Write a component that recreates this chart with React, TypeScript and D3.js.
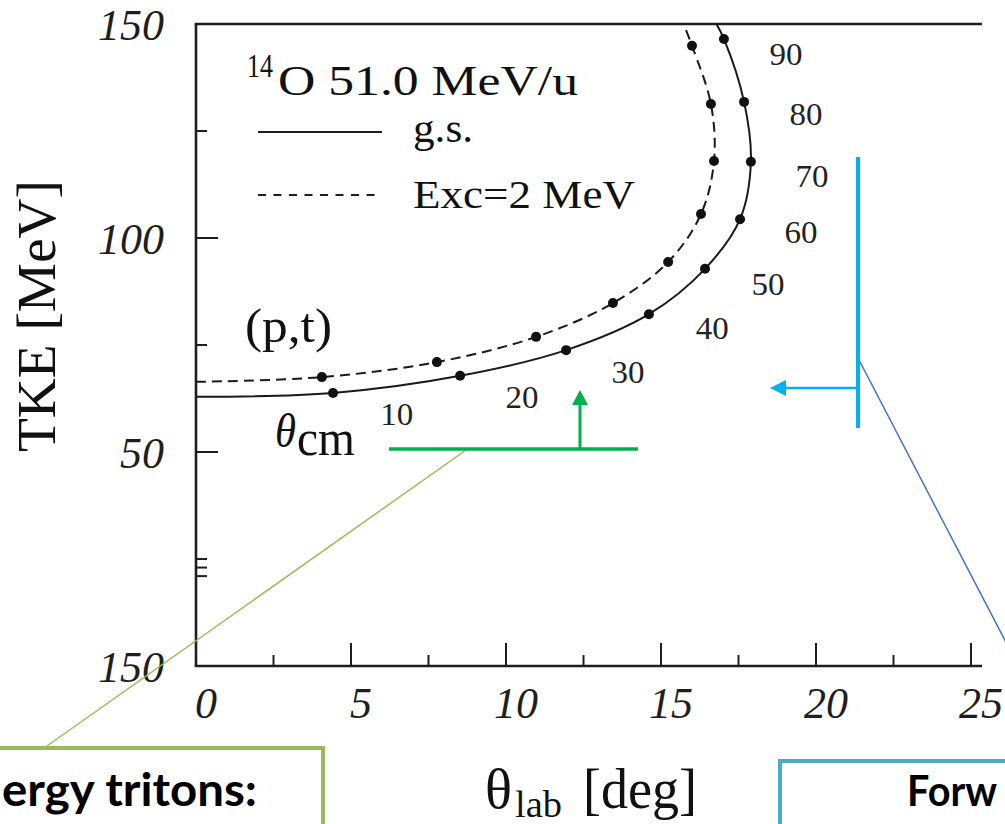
import React from "react";
import * as d3 from "d3";

// ---- data ----
const thetaCmLabels = [10, 20, 30, 40, 50, 60, 70, 80, 90];
// ground state (solid)
const gsThetaLab = [4.42, 8.52, 11.94, 14.61, 16.42, 17.55, 17.9, 17.68, 17.03];
const gsTKE = [63.8, 67.8, 73.8, 82.2, 92.8, 104.4, 117.8, 131.8, 146.5];
const gsStart: [number, number] = [0, 62.9];
const gsEnd: [number, number] = [16.75, 150.5];
// Exc = 2 MeV (dashed)
const excThetaLab = [4.06, 7.77, 10.97, 13.45, 15.23, 16.29, 16.71, 16.61, 16.0];
const excTKE = [67.5, 71.0, 76.9, 84.8, 94.4, 105.6, 118.0, 131.3, 144.9];
const excStart: [number, number] = [0, 66.4];
const excEnd: [number, number] = [15.7, 150.5];
// theta_cm label anchor positions (data units)
const labelTheta = [6.48, 10.52, 13.94, 16.65, 18.45, 19.52, 19.87, 19.68, 19.03];
const labelTKE = [56.3, 60.3, 66.1, 76.4, 86.7, 98.8, 111.9, 126.4, 140.4];

// axis ticks
const xMajorTicks = [0, 5, 10, 15, 20, 25];
const xTickLabels = ["0", "5", "10", "15", "20", "25"];
const xMinorTicks = [2.5, 7.5, 12.5, 17.5, 22.5];
const yMajorTicks = [50, 100];
const yTickLabelValues = [150, 100, 50, 0];
const yTickLabels = ["150", "100", "50", "150"];
const yMinorTicks = [25, 23, 21, 75, 125];

const W = 1005;
const H = 824;
const X0 = 196;
const X25 = 971;
const XR = 982;
const YT = 24;
const YB = 666;

const AX = "#1e1e1e";
const SERIF = "'Liberation Serif', 'Times New Roman', serif";
const SANS = "Lato, 'Open Sans', sans-serif";

export default function App() {
  const x = d3.scaleLinear().domain([0, 25]).range([X0, X25]);
  const y = d3.scaleLinear().domain([0, 150]).range([YB, YT]);

  const line = d3
    .line<[number, number]>()
    .x((d) => x(d[0]))
    .y((d) => y(d[1]))
    .curve(d3.curveCatmullRom.alpha(0.5));

  const gsPts: [number, number][] = [gsStart, ...gsThetaLab.map((t, i) => [t, gsTKE[i]] as [number, number]), gsEnd];
  const excPts: [number, number][] = [excStart, ...excThetaLab.map((t, i) => [t, excTKE[i]] as [number, number]), excEnd];

  return (
    <svg
      width={W}
      height={H}
      viewBox={`0 0 ${W} ${H}`}
      style={{ position: "absolute", left: 0, top: 0, display: "block", background: "#fff" }}
    >
      <defs>
        <clipPath id="plotclip">
          <rect x={X0} y={YT} width={XR - X0} height={YB - YT} />
        </clipPath>
      </defs>
      <rect x={0} y={0} width={W} height={H} fill="#fff" />

      {/* axes frame */}
      <line x1={X0} y1={YT} x2={X0} y2={YB} stroke={AX} strokeWidth={2.6} />
      <line x1={X0 - 1.3} y1={YB} x2={XR} y2={YB} stroke={AX} strokeWidth={2.6} />
      <line x1={X0 - 1.3} y1={YT} x2={XR} y2={YT} stroke={AX} strokeWidth={2.6} />

      {/* x ticks */}
      {xMajorTicks.map((t) => (
        <line key={"xM" + t} x1={x(t)} x2={x(t)} y1={YB} y2={YB - 23} stroke={AX} strokeWidth={2} />
      ))}
      {xMinorTicks.map((t) => (
        <line key={"xm" + t} x1={x(t)} x2={x(t)} y1={YB} y2={YB - 11} stroke={AX} strokeWidth={2} />
      ))}
      {xMajorTicks.map((t, i) => (
        <text
          key={"xl" + t}
          x={x(t) + 10}
          y={718}
          textAnchor="middle"
          fontFamily={SERIF}
          fontStyle="italic"
          fontSize={44}
          fill={AX}
        >
          {xTickLabels[i]}
        </text>
      ))}

      {/* y ticks */}
      {yMajorTicks.map((t) => (
        <line key={"yM" + t} x1={X0} x2={X0 + 22} y1={y(t)} y2={y(t)} stroke={AX} strokeWidth={2} />
      ))}
      {yMinorTicks.map((t) => (
        <line key={"ym" + t} x1={X0} x2={X0 + 11} y1={y(t)} y2={y(t)} stroke={AX} strokeWidth={2} />
      ))}
      {yTickLabelValues.map((v, i) => (
        <text
          key={"yl" + i}
          x={164}
          y={y(v) + 16}
          textAnchor="end"
          fontFamily={SERIF}
          fontStyle="italic"
          fontSize={44}
          fill={AX}
        >
          {yTickLabels[i]}
        </text>
      ))}

      {/* axis titles */}
      <text
        transform={`translate(55,316) rotate(-90)`}
        textAnchor="middle"
        fontFamily={SERIF}
        fontSize={54}
        fill="#111"
        textLength={272}
        lengthAdjust="spacingAndGlyphs"
      >
        TKE [MeV]
      </text>
      <text x={485} y={808} fontFamily={SERIF} fontSize={58} fill="#111" textLength={27} lengthAdjust="spacingAndGlyphs">
        θ
      </text>
      <text x={515} y={817} fontFamily={SERIF} fontSize={38} fill="#111" textLength={47} lengthAdjust="spacingAndGlyphs">
        lab
      </text>
      <text x={583} y={808} fontFamily={SERIF} fontSize={56} fill="#111" textLength={114} lengthAdjust="spacingAndGlyphs">
        [deg]
      </text>

      {/* legend */}
      <text x={247} y={77} fontFamily={SERIF} fontSize={33} fill="#111" textLength={26} lengthAdjust="spacingAndGlyphs">
        14
      </text>
      <text x={278} y={95} fontFamily={SERIF} fontSize={42} fill="#111" textLength={300} lengthAdjust="spacingAndGlyphs">
        O 51.0 MeV/u
      </text>
      <line x1={258} x2={382} y1={132} y2={132} stroke={AX} strokeWidth={2.2} />
      <text x={413} y={142} fontFamily={SERIF} fontSize={42} fill="#111" textLength={60} lengthAdjust="spacingAndGlyphs">
        g.s.
      </text>
      <line x1={258} x2={382} y1={195} y2={195} stroke={AX} strokeWidth={2} strokeDasharray="8,7.5" />
      <text x={413} y={208} fontFamily={SERIF} fontSize={41} fill="#111" textLength={222} lengthAdjust="spacingAndGlyphs">
        Exc=2 MeV
      </text>
      <text x={245} y={342} fontFamily={SERIF} fontSize={48} fill="#111" textLength={87} lengthAdjust="spacingAndGlyphs">
        (p,t)
      </text>
      <text x={275} y={447} fontFamily={SERIF} fontStyle="italic" fontSize={49} fill="#111" textLength={21} lengthAdjust="spacingAndGlyphs">
        θ
      </text>
      <text x={297} y={455} fontFamily={SERIF} fontSize={50} fill="#111" textLength={58} lengthAdjust="spacingAndGlyphs">
        cm
      </text>

      {/* curves */}
      <g clipPath="url(#plotclip)">
        <path d={line(gsPts) || ""} fill="none" stroke="#1a1a1a" strokeWidth={2} />
        <path d={line(excPts) || ""} fill="none" stroke="#1a1a1a" strokeWidth={2} strokeDasharray="10,6" />
        {gsThetaLab.map((t, i) => (
          <circle key={"gp" + i} cx={x(t)} cy={y(gsTKE[i])} r={5} fill="#111" />
        ))}
        {excThetaLab.map((t, i) => (
          <circle key={"ep" + i} cx={x(t)} cy={y(excTKE[i])} r={5} fill="#111" />
        ))}
      </g>

      {/* theta_cm labels */}
      {thetaCmLabels.map((l, i) => (
        <text
          key={"cl" + l}
          x={x(labelTheta[i])}
          y={y(labelTKE[i])}
          textAnchor="middle"
          fontFamily={SERIF}
          fontSize={31}
          fill="#222"
          textLength={33}
          lengthAdjust="spacingAndGlyphs"
        >
          {l}
        </text>
      ))}

      {/* green annotation */}
      <line x1={466} y1={450} x2={47} y2={746} stroke="#9bbb59" strokeWidth={1.5} />
      <line x1={389} x2={638} y1={449} y2={449} stroke="#00b050" strokeWidth={3.5} />
      <line x1={580} x2={580} y1={449} y2={403} stroke="#00b050" strokeWidth={3} />
      <path d="M580,390 L572,405 L588,405 Z" fill="#00b050" />
      <rect x={-10} y={748} width={333} height={120} fill="#fff" stroke="#9bbb59" strokeWidth={4} />
      <text
        x={257}
        y={806}
        textAnchor="end"
        fontFamily={SANS}
        fontWeight="bold"
        fontSize={46}
        fill="#000"
        textLength={255}
        lengthAdjust="spacingAndGlyphs"
      >
        ergy tritons:
      </text>

      {/* blue annotation */}
      <line x1={858} y1={358} x2={1075} y2={775} stroke="#4472c4" strokeWidth={1.5} />
      <line x1={858} x2={858} y1={157} y2={428} stroke="#00b0f0" strokeWidth={4} />
      <line x1={858} x2={784} y1={388} y2={388} stroke="#00b0f0" strokeWidth={2.6} />
      <path d="M770,388 L786,380 L786,396 Z" fill="#00b0f0" />
      <rect x={780} y={761} width={260} height={100} fill="#fff" stroke="#4bacc6" strokeWidth={4} />
      <text
        x={907}
        y={806}
        fontFamily={SANS}
        fontWeight="bold"
        fontSize={42}
        fill="#000"
        textLength={90}
        lengthAdjust="spacingAndGlyphs"
      >
        Forw
      </text>
    </svg>
  );
}
